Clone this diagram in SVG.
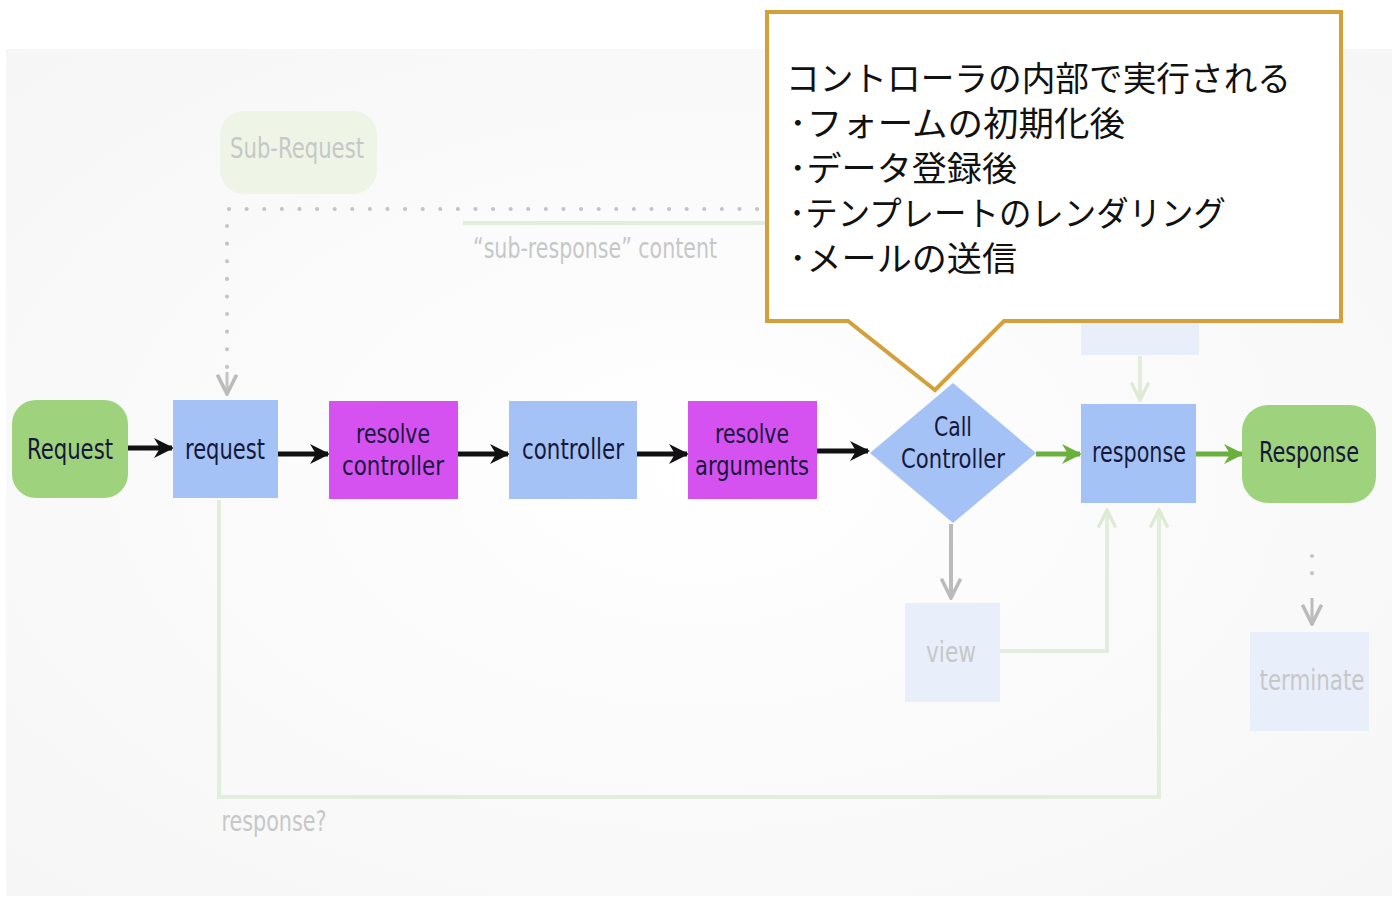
<svg xmlns="http://www.w3.org/2000/svg" width="1392" height="897" viewBox="0 0 1392 897">
  <defs>
    <radialGradient id="bg" cx="0.5" cy="0.5" r="0.7">
      <stop offset="0" stop-color="#ffffff"/>
      <stop offset="1" stop-color="#f6f6f6"/>
    </radialGradient>
    <marker id="arrBlack" viewBox="0 0 20 20" refX="18" refY="10" markerWidth="20" markerHeight="20" markerUnits="userSpaceOnUse" orient="auto">
      <path d="M0,0 L20,10 L0,20 L6,10 Z" fill="#111"/>
    </marker>
    <marker id="arrGreen" viewBox="0 0 20 20" refX="18" refY="10" markerWidth="20" markerHeight="20" markerUnits="userSpaceOnUse" orient="auto">
      <path d="M0,0 L20,10 L0,20 L6,10 Z" fill="#6ab03c"/>
    </marker>
    <marker id="arrGray" viewBox="0 0 20 20" refX="18" refY="10" markerWidth="24" markerHeight="24" markerUnits="userSpaceOnUse" orient="auto">
      <path d="M2,2 L18,10 L2,18" fill="none" stroke="#bbbbbb" stroke-width="3"/>
    </marker>
    <marker id="arrFaint" viewBox="0 0 20 20" refX="18" refY="10" markerWidth="22" markerHeight="22" markerUnits="userSpaceOnUse" orient="auto">
      <path d="M2,2 L18,10 L2,18" fill="none" stroke="#dcebd2" stroke-width="3"/>
    </marker>
    <style>
      .lbl { font-family: "DejaVu Sans Condensed", "Liberation Sans", sans-serif; font-size: 29px; fill: #15183a; text-anchor: middle; }
      .lbl2 { font-family: "DejaVu Sans Condensed", "Liberation Sans", sans-serif; font-size: 27px; fill: #15183a; text-anchor: middle; }
      .faded { font-family: "DejaVu Sans Condensed", "Liberation Sans", sans-serif; font-size: 28px; fill: #c6c8c8; text-anchor: middle; }
      .blue { fill: #a4c2f6; }
      .mag { fill: #d552f0; }
      .green { fill: #9fd27c; }
      .faintbox { fill: #e9eefb; }
      .blk { stroke: #111; stroke-width: 5; fill: none; }
      .grn { stroke: #6ab03c; stroke-width: 5; fill: none; }
      .faint { stroke: #e2eedb; stroke-width: 4; fill: none; }
      .jp { font-family: "Noto Sans CJK JP", sans-serif; font-size: 34px; fill: #111; }
    </style>
  </defs>

  <!-- backdrop -->
  <rect x="0" y="0" width="1392" height="897" fill="#ffffff"/>
  <rect x="6" y="49" width="1386" height="847" fill="url(#bg)"/>

  <!-- connectors -->
  <g id="connectors">
    <!-- faint sub-request loop -->
    <path d="M229,209 H780" stroke="#c4c4c4" stroke-width="4" stroke-dasharray="0.1 17.5" stroke-linecap="round" fill="none"/>
    <path d="M227,226 V370" stroke="#c4c4c4" stroke-width="4" stroke-dasharray="0.1 17.5" stroke-linecap="round" fill="none"/>
    <path d="M227,372 V394" stroke="#c4c4c4" stroke-width="3" fill="none" marker-end="url(#arrGray)"/>
    <path d="M463,223 H780" stroke="#e2eedb" stroke-width="4" fill="none"/>
    <!-- upper faint box to response -->
    <path d="M1140,356 V400" class="faint" marker-end="url(#arrFaint)"/>
    <!-- call controller to view -->
    <path d="M951,524 V598" stroke="#bbbbbb" stroke-width="4" fill="none" marker-end="url(#arrGray)"/>
    <!-- view to response -->
    <path d="M978,651 H1107 V510" class="faint" marker-end="url(#arrFaint)"/>
    <!-- request to response bypass -->
    <path d="M219,500 V797 H1159 V510" class="faint" marker-end="url(#arrFaint)"/>
    <!-- response to terminate -->
    <path d="M1312,556 V585" stroke="#c4c4c4" stroke-width="4" stroke-dasharray="0.1 17" stroke-linecap="round" fill="none"/>
    <path d="M1312,598 V624" stroke="#bbbbbb" stroke-width="3" fill="none" marker-end="url(#arrGray)"/>
    <!-- main flow -->
    <path d="M128,448 H172" class="blk" marker-end="url(#arrBlack)"/>
    <path d="M278,454 H328" class="blk" marker-end="url(#arrBlack)"/>
    <path d="M458,454 H508" class="blk" marker-end="url(#arrBlack)"/>
    <path d="M637,454 H687" class="blk" marker-end="url(#arrBlack)"/>
    <path d="M817,451 H868" class="blk" marker-end="url(#arrBlack)"/>
    <path d="M1036,454 H1080" class="grn" marker-end="url(#arrGreen)"/>
    <path d="M1196,454 H1242" class="grn" marker-end="url(#arrGreen)"/>
  </g>

  <g id="sub-request">
    <rect x="220" y="111" width="157" height="83" rx="24" fill="#eef5e6"/>
    <text class="faded" x="297" y="158" textLength="134" lengthAdjust="spacingAndGlyphs">Sub-Request</text>
  </g>
  <g id="sub-response-label">
    <text class="faded" x="595" y="258" textLength="244" lengthAdjust="spacingAndGlyphs">“sub-response” content</text>
  </g>

  <g id="request-start">
    <rect x="12" y="400" width="116" height="98" rx="24" class="green"/>
    <text class="lbl" x="70" y="459" textLength="86" lengthAdjust="spacingAndGlyphs">Request</text>
  </g>
  <g id="request">
    <rect x="173" y="400" width="105" height="98" class="blue"/>
    <text class="lbl" x="225" y="459" textLength="80" lengthAdjust="spacingAndGlyphs">request</text>
  </g>
  <g id="resolve-controller">
    <rect x="329" y="401" width="129" height="98" class="mag"/>
    <text class="lbl2" x="393" y="443" textLength="74" lengthAdjust="spacingAndGlyphs">resolve</text>
    <text class="lbl2" x="393" y="475" textLength="102" lengthAdjust="spacingAndGlyphs">controller</text>
  </g>
  <g id="controller">
    <rect x="509" y="401" width="128" height="98" class="blue"/>
    <text class="lbl" x="573" y="459" textLength="102" lengthAdjust="spacingAndGlyphs">controller</text>
  </g>
  <g id="resolve-arguments">
    <rect x="688" y="401" width="129" height="98" class="mag"/>
    <text class="lbl2" x="752" y="443" textLength="74" lengthAdjust="spacingAndGlyphs">resolve</text>
    <text class="lbl2" x="752" y="475" textLength="114" lengthAdjust="spacingAndGlyphs">arguments</text>
  </g>
  <g id="call-controller">
    <polygon points="953,383 1036,453 953,523 870,453" class="blue"/>
    <text class="lbl2" x="953" y="436" textLength="38" lengthAdjust="spacingAndGlyphs">Call</text>
    <text class="lbl2" x="953" y="468" textLength="104" lengthAdjust="spacingAndGlyphs">Controller</text>
  </g>
  <g id="response">
    <rect x="1081" y="404" width="115" height="99" class="blue"/>
    <text class="lbl" x="1139" y="462" textLength="94" lengthAdjust="spacingAndGlyphs">response</text>
  </g>
  <g id="response-end">
    <rect x="1242" y="405" width="134" height="98" rx="26" class="green"/>
    <text class="lbl" x="1309" y="462" textLength="100" lengthAdjust="spacingAndGlyphs">Response</text>
  </g>
  <g id="upper-box">
    <rect x="1081" y="320" width="118" height="35" class="faintbox"/>
  </g>
  <g id="view">
    <rect x="905" y="603" width="95" height="99" class="faintbox"/>
    <text class="faded" x="951" y="662" textLength="50" lengthAdjust="spacingAndGlyphs">view</text>
  </g>
  <g id="terminate">
    <rect x="1250" y="632" width="119" height="99" class="faintbox"/>
    <text class="faded" x="1312" y="690" textLength="105" lengthAdjust="spacingAndGlyphs">terminate</text>
  </g>
  <g id="response-q">
    <text class="faded" x="274" y="831" textLength="105" lengthAdjust="spacingAndGlyphs">response?</text>
  </g>

  <!-- explanatory callout -->
  <g id="callout">
    <path d="M767,12 H1341 V321 H1004 L935,390 L848,321 H767 Z" fill="#ffffff" stroke="#d4a03c" stroke-width="4" stroke-linejoin="miter"/>
    <text class="jp" x="786" y="91" textLength="505" lengthAdjust="spacingAndGlyphs">コントローラの内部で実行される</text>
    <text class="jp" x="789" y="136" textLength="336" lengthAdjust="spacingAndGlyphs">･フォームの初期化後</text>
    <text class="jp" x="789" y="181" textLength="228" lengthAdjust="spacingAndGlyphs">･データ登録後</text>
    <text class="jp" x="789" y="226" textLength="437" lengthAdjust="spacingAndGlyphs">･テンプレートのレンダリング</text>
    <text class="jp" x="789" y="271" textLength="228" lengthAdjust="spacingAndGlyphs">･メールの送信</text>
  </g>
</svg>
